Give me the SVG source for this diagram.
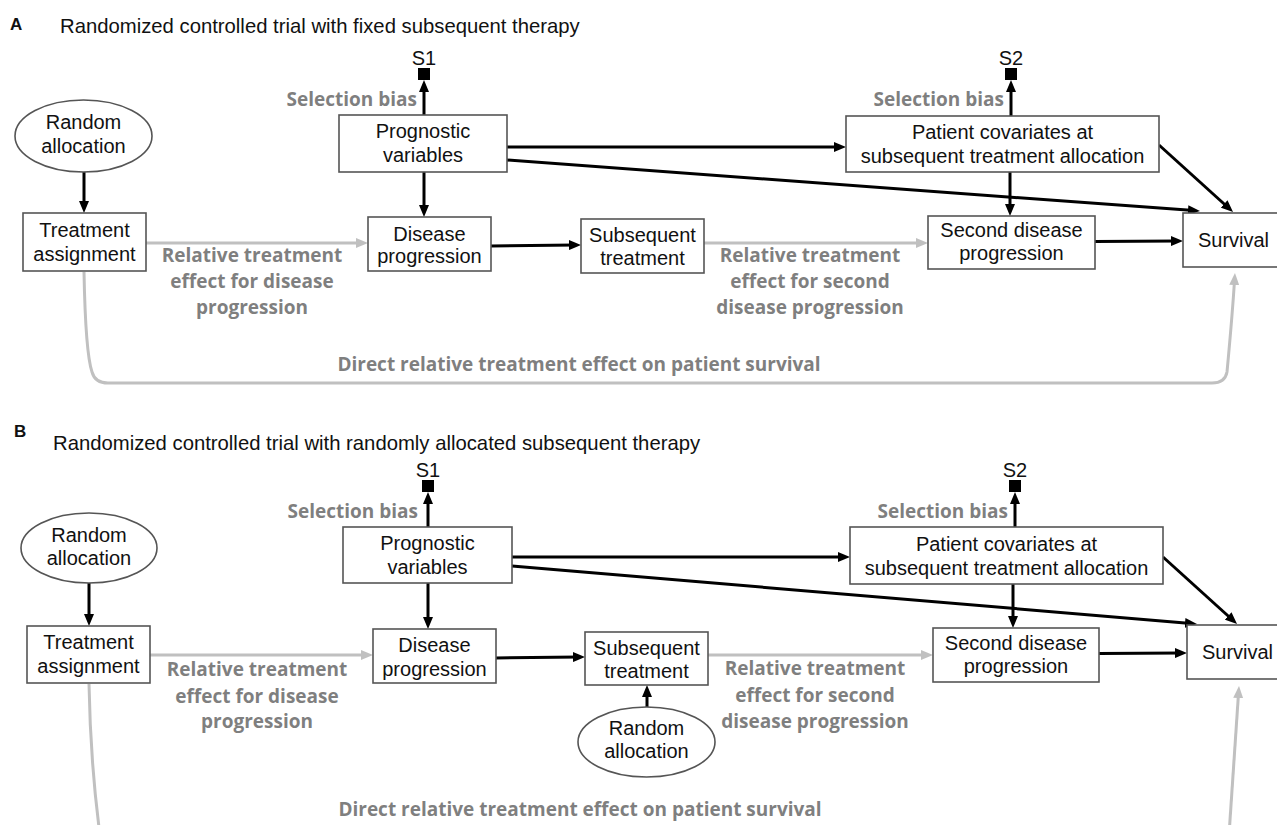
<svg xmlns="http://www.w3.org/2000/svg" width="1277" height="825" viewBox="0 0 1277 825">
<defs>
<style>
.bg{fill:#fff}
.box{fill:#fff;stroke:#555;stroke-width:1.6}
.t{font-family:"Liberation Sans",Arial,sans-serif;font-size:20px;fill:#111;text-anchor:middle}
.title{font-family:"Liberation Sans",Arial,sans-serif;font-size:20.3px;fill:#111}
.pl{font-family:"Liberation Sans",Arial,sans-serif;font-size:17px;font-weight:bold;fill:#111}
.g{font-family:"Open Sans","Liberation Sans",sans-serif;font-size:19px;font-weight:700;fill:#7f7f7f;text-anchor:middle}
.ge{font-family:"Open Sans","Liberation Sans",sans-serif;font-size:19px;font-weight:700;fill:#7f7f7f;text-anchor:end}
.ka{fill:none;stroke:#000;stroke-width:3;marker-end:url(#ab)}
.ga{fill:none;stroke:#c0c0c0;stroke-width:3;marker-end:url(#ag)}
.sq{fill:#000}
</style>
<marker id="ab" markerUnits="userSpaceOnUse" markerWidth="12" markerHeight="10" refX="6" refY="5" orient="auto" viewBox="0 0 12 10"><path d="M0,0 L12,5 L0,10 z" fill="#000"/></marker>
<marker id="ag" markerUnits="userSpaceOnUse" markerWidth="12" markerHeight="10" refX="6" refY="5" orient="auto" viewBox="0 0 12 10"><path d="M0,0 L12,5 L0,10 z" fill="#c0c0c0"/></marker>
</defs>
<rect class="bg" x="0" y="0" width="1277" height="825"/>

<!-- Panel A headings -->
<text class="pl" x="10" y="30">A</text>
<text class="title" x="60" y="33">Randomized controlled trial with fixed subsequent therapy</text>

<!-- Panel A connectors -->
<g id="connectors-A">
<path class="ka" d="M84,172 L84,207"/>
<path class="ka" d="M424,115 L424,86"/>
<path class="ka" d="M424,172 L424,211"/>
<path class="ka" d="M507,147 L840,147"/>
<path class="ka" d="M507,160 L1194,210.6"/>
<path class="ka" d="M1159,145 L1228.6,208"/>
<path class="ka" d="M1011,116 L1011,86"/>
<path class="ka" d="M1010,172 L1010,210"/>
<path class="ka" d="M491,246 L575,245"/>
<path class="ka" d="M1095,241.5 L1177,241"/>
<path class="ga" d="M146,243 L362,243"/>
<path class="ga" d="M704,243 L922,243"/>
<path class="ga" d="M84,272 C85,325 88,360 92,372 Q95,383 108,383 L1212,383 Q1225,383 1227,372 C1230,340 1233,305 1234.6,279"/>
<rect class="sq" x="418" y="68" width="12" height="12"/>
<rect class="sq" x="1005" y="68" width="12" height="12"/>
<text class="t" x="424" y="65">S1</text>
<text class="t" x="1011" y="65">S2</text>
<text class="ge" x="417" y="106">Selection bias</text>
<text class="ge" x="1004" y="106">Selection bias</text>
<text class="g" x="252" y="262">Relative treatment</text>
<text class="g" x="252" y="288">effect for disease</text>
<text class="g" x="252" y="314">progression</text>
<text class="g" x="810" y="262">Relative treatment</text>
<text class="g" x="810" y="288">effect for second</text>
<text class="g" x="810" y="314">disease progression</text>
<text class="g" x="579" y="371">Direct relative treatment effect on patient survival</text>
</g>

<!-- Panel A nodes -->
<g id="A-random">
<ellipse class="box" cx="83.5" cy="136" rx="68.5" ry="36"/>
<text class="t" x="83.5" y="129">Random</text>
<text class="t" x="83.5" y="153">allocation</text>
</g>
<g id="A-treatment">
<rect class="box" x="23" y="213" width="123" height="58"/>
<text class="t" x="84.5" y="237">Treatment</text>
<text class="t" x="84.5" y="261">assignment</text>
</g>
<g id="A-prognostic">
<rect class="box" x="339" y="115" width="168" height="57"/>
<text class="t" x="423" y="138">Prognostic</text>
<text class="t" x="423" y="162">variables</text>
</g>
<g id="A-disease">
<rect class="box" x="368" y="217" width="123" height="54"/>
<text class="t" x="429.5" y="241">Disease</text>
<text class="t" x="429.5" y="263">progression</text>
</g>
<g id="A-subsequent">
<rect class="box" x="581" y="219" width="123" height="54"/>
<text class="t" x="642.5" y="242">Subsequent</text>
<text class="t" x="642.5" y="265">treatment</text>
</g>
<g id="A-patient">
<rect class="box" x="846" y="116" width="313" height="56"/>
<text class="t" x="1002.5" y="139">Patient covariates at</text>
<text class="t" x="1002.5" y="163">subsequent treatment allocation</text>
</g>
<g id="A-second">
<rect class="box" x="928" y="216" width="167" height="53"/>
<text class="t" x="1011.5" y="237">Second disease</text>
<text class="t" x="1011.5" y="260">progression</text>
</g>
<g id="A-survival">
<rect class="box" x="1183" y="213" width="110" height="54"/>
<text class="t" x="1233.5" y="247">Survival</text>
</g>

<!-- Panel B headings -->
<text class="pl" x="14" y="437">B</text>
<text class="title" x="53" y="450">Randomized controlled trial with randomly allocated subsequent therapy</text>

<!-- Panel B connectors -->
<g id="connectors-B">
<path class="ka" d="M89,583 L89,620"/>
<path class="ka" d="M428,527 L428,498"/>
<path class="ka" d="M428,583 L428,623"/>
<path class="ka" d="M512,557 L844,557"/>
<path class="ka" d="M512,566 L1191,623.5"/>
<path class="ka" d="M1163,557 L1232.6,620"/>
<path class="ka" d="M1015,527 L1015,498"/>
<path class="ka" d="M1013,584 L1013,622"/>
<path class="ka" d="M496,658 L579,657"/>
<path class="ka" d="M647,707 L647,691"/>
<path class="ka" d="M1099,653.5 L1181,653"/>
<path class="ga" d="M150,655 L367,655"/>
<path class="ga" d="M708,655 L927,655"/>
<path class="ga" d="M89,684 C90,740 94,790 100,835"/>
<path class="ga" d="M1229,835 C1233,780 1236,730 1238.6,692"/>
<rect class="sq" x="422" y="480" width="12" height="12"/>
<rect class="sq" x="1009" y="480" width="12" height="12"/>
<text class="t" x="428" y="477">S1</text>
<text class="t" x="1015" y="477">S2</text>
<text class="ge" x="418" y="518">Selection bias</text>
<text class="ge" x="1008" y="518">Selection bias</text>
<text class="g" x="257" y="676">Relative treatment</text>
<text class="g" x="257" y="703">effect for disease</text>
<text class="g" x="257" y="728">progression</text>
<text class="g" x="815" y="675">Relative treatment</text>
<text class="g" x="815" y="702">effect for second</text>
<text class="g" x="815" y="728">disease progression</text>
<text class="g" x="580" y="816">Direct relative treatment effect on patient survival</text>
</g>

<!-- Panel B nodes -->
<g id="B-random">
<ellipse class="box" cx="89" cy="548" rx="68" ry="35"/>
<text class="t" x="89" y="542">Random</text>
<text class="t" x="89" y="565">allocation</text>
</g>
<g id="B-treatment">
<rect class="box" x="27" y="626" width="123" height="57"/>
<text class="t" x="88.5" y="649">Treatment</text>
<text class="t" x="88.5" y="673">assignment</text>
</g>
<g id="B-prognostic">
<rect class="box" x="343" y="527" width="169" height="56"/>
<text class="t" x="427.5" y="550">Prognostic</text>
<text class="t" x="427.5" y="574">variables</text>
</g>
<g id="B-disease">
<rect class="box" x="373" y="629" width="123" height="54"/>
<text class="t" x="434.5" y="652">Disease</text>
<text class="t" x="434.5" y="676">progression</text>
</g>
<g id="B-subsequent">
<rect class="box" x="585" y="632" width="123" height="53"/>
<text class="t" x="646.5" y="655">Subsequent</text>
<text class="t" x="646.5" y="678">treatment</text>
</g>
<g id="B-random2">
<ellipse class="box" cx="646.5" cy="742" rx="68.5" ry="35"/>
<text class="t" x="646.5" y="735">Random</text>
<text class="t" x="646.5" y="758">allocation</text>
</g>
<g id="B-patient">
<rect class="box" x="850" y="527" width="313" height="57"/>
<text class="t" x="1006.5" y="551">Patient covariates at</text>
<text class="t" x="1006.5" y="575">subsequent treatment allocation</text>
</g>
<g id="B-second">
<rect class="box" x="933" y="628" width="166" height="54"/>
<text class="t" x="1016" y="650">Second disease</text>
<text class="t" x="1016" y="673">progression</text>
</g>
<g id="B-survival">
<rect class="box" x="1187" y="625" width="110" height="54"/>
<text class="t" x="1237.5" y="659">Survival</text>
</g>
</svg>
